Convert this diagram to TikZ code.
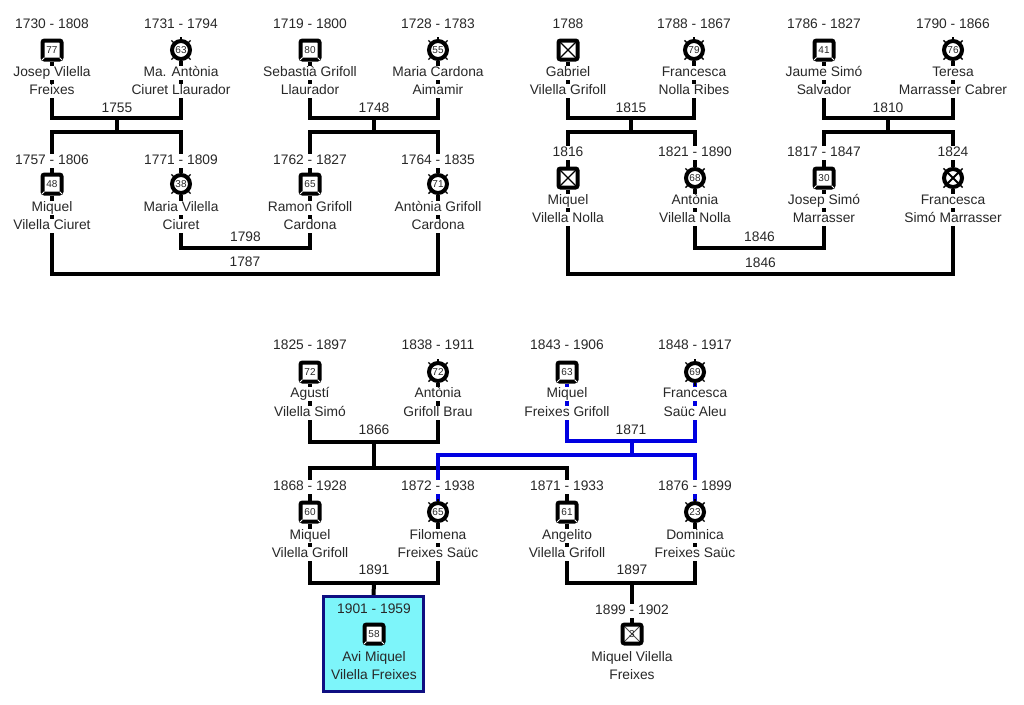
\documentclass[tikz,border=0pt]{standalone}
\usepackage{fontspec}
\setmainfont{Liberation Sans}
\usetikzlibrary{backgrounds}
\pgfdeclarelayer{bottom}
\pgfsetlayers{bottom,background,main}
\definecolor{txtc}{RGB}{40,40,40}
\definecolor{linkblue}{RGB}{0,0,225}
\definecolor{boxfill}{RGB}{125,245,250}
\definecolor{boxdraw}{RGB}{15,15,130}
\tikzset{
  txt/.style={fill=white, inner xsep=1pt, inner ysep=1pt, text height=9.8pt, text depth=2.8pt, font=\fontsize{13.8}{16}\selectfont, text=txtc},
  bare/.style={txt, fill=none},
  lbl/.style={inner sep=1pt, font=\fontsize{13.8}{16}\selectfont, text=txtc},
  msym/.style={rectangle, draw=black, fill=white, line width=4pt, rounded corners=2pt, minimum size=19pt, inner sep=0pt, font=\fontsize{10}{10}\selectfont, text=txtc},
  fsym/.style={circle, draw=black, fill=white, line width=4pt, minimum size=18pt, inner sep=0pt, font=\fontsize{10}{10}\selectfont, text=txtc},
  ftick/.style={line width=1.4pt, black},
  mtab/.style={white, line width=1pt},
  xcross/.style={path picture={\draw[black,line width=1.3pt] (path picture bounding box.south west) -- (path picture bounding box.north east) (path picture bounding box.north west) -- (path picture bounding box.south east);}},
  xcrossg/.style={path picture={\draw[black!70,line width=1pt] (path picture bounding box.south west) -- (path picture bounding box.north east) (path picture bounding box.north west) -- (path picture bounding box.south east);}},
  xcrossf/.style={path picture={\draw[black,line width=1.9pt] (path picture bounding box.south west) -- (path picture bounding box.north east) (path picture bounding box.north west) -- (path picture bounding box.south east);}},
  conn/.style={line width=4pt, black},
  bconn/.style={line width=4pt, linkblue},
  hibox/.style={draw=boxdraw, fill=boxfill, line width=3pt, minimum width=100pt, minimum height=95pt, inner sep=0pt},
}
\newcommand\mtabs[1]{\draw[mtab] ([shift={(4pt,4pt)}]#1.south west) -- ++(-2.5pt,-2.5pt) ([shift={(-4pt,4pt)}]#1.south east) -- ++(2.5pt,-2.5pt);}
\newcommand\ftix[1]{\foreach \a in {45,90,135,225,270,315} {\draw[ftick] ([shift={(\a:-1.5pt)}]#1.\a) -- ++(\a:4pt);}}
% id, x, dates, num, name1, name2
\newcommand\Mper[6]{%
  \node[txt] (#1d) at (#2,\rowD) {#3};
  \node[msym] (#1) at (#2,\rowS) {#4};
  \mtabs{#1}
  \node[txt] (#1a) at (#2,\rowA) {#5};
  \node[txt] (#1b) at (#2,\rowB) {#6};}
\newcommand\XMper[5]{%
  \node[txt] (#1d) at (#2,\rowD) {#3};
  \node[msym,xcross] (#1) at (#2,\rowS) {};
  \node[txt] (#1a) at (#2,\rowA) {#4};
  \node[txt] (#1b) at (#2,\rowB) {#5};}
\newcommand\Fper[6]{%
  \node[txt] (#1d) at (#2,\rowD) {#3};
  \node[fsym] (#1) at (#2,\rowS) {#4};
  \ftix{#1}
  \node[txt] (#1a) at (#2,\rowA) {#5};
  \node[txt] (#1b) at (#2,\rowB) {#6};}
\newcommand\XFper[5]{%
  \node[txt] (#1d) at (#2,\rowD) {#3};
  \node[fsym,xcrossf] (#1) at (#2,\rowS) {};
  \ftix{#1}
  \node[txt] (#1a) at (#2,\rowA) {#4};
  \node[txt] (#1b) at (#2,\rowB) {#5};}
\begin{document}
\begin{tikzpicture}[x=1pt,y=-1pt]
\begin{pgfonlayer}{bottom}
\fill[white] (0,0) rectangle (1024,704);
\end{pgfonlayer}
\useasboundingbox (0,0) rectangle (1024,704);
% ---------- row A ----------
\def\rowD{25}\def\rowS{50}\def\rowA{73}\def\rowB{91}
\Mper{A1}{52}{1730 - 1808}{77}{Josep Vilella}{Freixes}
\Fper{A2}{181}{1731 - 1794}{63}{Ma. Antònia}{Ciuret Llaurador}
\Mper{A3}{310}{1719 - 1800}{80}{Sebastià Grifoll}{Llaurador}
\Fper{A4}{438}{1728 - 1783}{55}{Maria Cardona}{Aimamir}
\XMper{C1}{568}{1788}{Gabriel}{Vilella Grifoll}
\Fper{C2}{694}{1788 - 1867}{79}{Francesca}{Nolla Ribes}
\Mper{C3}{824}{1786 - 1827}{41}{Jaume Simó}{Salvador}
\Fper{C4}{953}{1790 - 1866}{76}{Teresa}{Marrasser Cabrer}
% ---------- row B (left) ----------
\def\rowD{161}\def\rowS{184}\def\rowA{208}\def\rowB{226}
\Mper{B1}{52}{1757 - 1806}{48}{Miquel}{Vilella Ciuret}
\Fper{B2}{181}{1771 - 1809}{38}{Maria Vilella}{Ciuret}
\Mper{B3}{310}{1762 - 1827}{65}{Ramon Grifoll}{Cardona}
\Fper{B4}{438}{1764 - 1835}{71}{Antònia Grifoll}{Cardona}
% ---------- row D (right) ----------
\def\rowD{153}\def\rowS{178}\def\rowA{201}\def\rowB{219}
\XMper{D1}{568}{1816}{Miquel}{Vilella Nolla}
\Fper{D2}{695}{1821 - 1890}{68}{Antònia}{Vilella Nolla}
\Mper{D3}{824}{1817 - 1847}{30}{Josep Simó}{Marrasser}
\XFper{D4}{953}{1824}{Francesca}{Simó Marrasser}
% ---------- row E ----------
\def\rowD{346}\def\rowS{372}\def\rowA{394}\def\rowB{413}
\Mper{E1}{310}{1825 - 1897}{72}{Agustí}{Vilella Simó}
\Fper{E2}{438}{1838 - 1911}{72}{Antònia}{Grifoll Brau}
\Mper{E3}{567}{1843 - 1906}{63}{Miquel}{Freixes Grifoll}
\Fper{E4}{695}{1848 - 1917}{69}{Francesca}{Saüc Aleu}
% ---------- row F ----------
\def\rowD{487}\def\rowS{512}\def\rowA{536}\def\rowB{554}
\Mper{F1}{310}{1868 - 1928}{60}{Miquel}{Vilella Grifoll}
\Fper{F2}{438}{1872 - 1938}{65}{Filomena}{Freixes Saüc}
\Mper{F3}{567}{1871 - 1933}{61}{Angelito}{Vilella Grifoll}
\Fper{F4}{695}{1876 - 1899}{23}{Dominica}{Freixes Saüc}
% ---------- row G ----------
\node[hibox] (box) at (373.5,644) {};
\node[bare] (G1d) at (374,610) {1901 - 1959};
\node[msym] (G1) at (374,634) {58};
\mtabs{G1}
\node[bare] (G1a) at (374,658) {Avi Miquel};
\node[bare] (G1b) at (374,676) {Vilella Freixes};
\node[txt] (G2d) at (632,611) {1899 - 1902};
\node[msym,xcrossg] (G2) at (632,634) {3};
\node[txt] (G2a) at (632,658) {Miquel Vilella};
\node[txt] (G2b) at (632,676) {Freixes};
% ---------- marriage labels ----------
\node[lbl] (m1755) at (117,108) {1755};
\node[lbl] (m1748) at (374,108) {1748};
\node[lbl] (m1815) at (631,108) {1815};
\node[lbl] (m1810) at (888,108) {1810};
\node[lbl] (m1798) at (245.5,237) {1798};
\node[lbl] (m1787) at (245,262) {1787};
\node[lbl] (m1846a) at (759.5,237) {1846};
\node[lbl] (m1846b) at (760.5,263) {1846};
\node[lbl] (m1866) at (374,430) {1866};
\node[lbl] (m1871) at (631,430) {1871};
\node[lbl] (m1891) at (374,570) {1891};
\node[lbl] (m1897) at (632,570) {1897};
% ---------- connectors ----------
\begin{pgfonlayer}{background}
\coordinate (j1755) at (117,118); \coordinate (k1755) at (117,132);
\draw[conn] (A1) |- (j1755) -| (A2);
\draw[conn] (j1755) -- (k1755);
\draw[conn] (B1) |- (k1755) -| (B2);
\coordinate (j1748) at (374,118); \coordinate (k1748) at (374,132);
\draw[conn] (A3) |- (j1748) -| (A4);
\draw[conn] (j1748) -- (k1748);
\draw[conn] (B3) |- (k1748) -| (B4);
\coordinate (j1815) at (631,118); \coordinate (k1815) at (631,132);
\draw[conn] (C1) |- (j1815) -| (C2);
\draw[conn] (j1815) -- (k1815);
\draw[conn] (D1) |- (k1815) -| (D2);
\coordinate (j1810) at (888,118); \coordinate (k1810) at (888,132);
\draw[conn] (C3) |- (j1810) -| (C4);
\draw[conn] (j1810) -- (k1810);
\draw[conn] (D3) |- (k1810) -| (D4);
\coordinate (j1798) at (245,248);
\draw[conn] (B2) |- (j1798) -| (B3);
\coordinate (j1787) at (245,274);
\draw[conn] (B1) |- (j1787) -| (B4);
\coordinate (j1846a) at (760,248);
\draw[conn] (D2) |- (j1846a) -| (D3);
\coordinate (j1846b) at (760,274);
\draw[conn] (D1) |- (j1846b) -| (D4);
\coordinate (j1866) at (374,442); \coordinate (k1866) at (374,468);
\draw[conn] (E1) |- (j1866) -| (E2);
\draw[conn] (j1866) -- (k1866);
\draw[conn] (F1) |- (k1866) -| (F3);
\coordinate (j1891) at (374,583);
\draw[conn] (F1) |- (j1891) -| (F2);
\draw[conn] (j1891) -- (box.north);
\coordinate (j1897) at (632,583);
\draw[conn] (F3) |- (j1897) -| (F4);
\draw[conn] (j1897) -- (G2);
\coordinate (j1871) at (632,441); \coordinate (k1871) at (632,455);
\draw[bconn] (E3) |- (j1871) -| (E4);
\draw[bconn] (j1871) -- (k1871);
\draw[bconn] (F2) |- (k1871) -| (F4);
\end{pgfonlayer}
\end{tikzpicture}
\end{document}
